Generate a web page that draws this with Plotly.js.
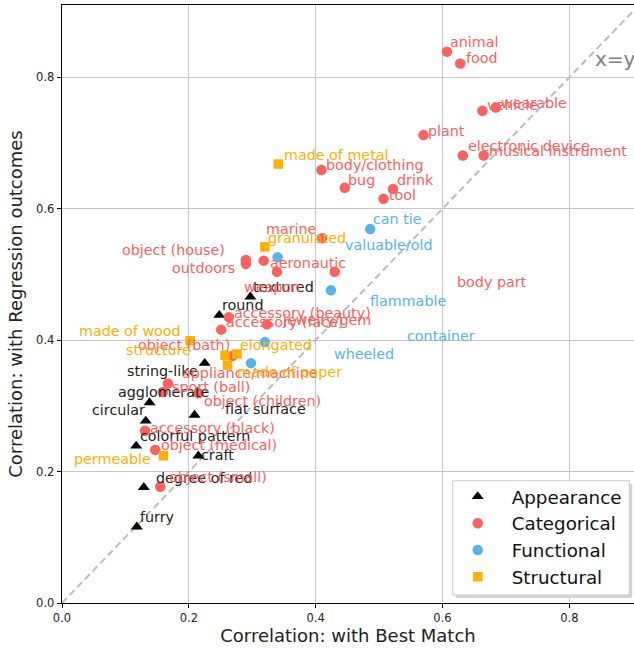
<!DOCTYPE html>
<html>
<head>
<meta charset="utf-8">
<script src="https://cdn.plot.ly/plotly-3.0.1.min.js"></script>
<style>html,body{margin:0;padding:0;background:#fff;}</style>
</head>
<body>
<div id="chart" style="width:634px;height:649px;"></div>
<script>
// ---- Data ----
const appearanceNames = ["textured","round","string-like","agglomerate","circular","flat surface","colorful pattern","craft","degree of red","furry"];
const appearanceX = [0.297,0.248,0.225,0.138,0.132,0.209,0.117,0.215,0.129,0.118];
const appearanceY = [0.466,0.438,0.365,0.305,0.277,0.286,0.239,0.224,0.176,0.116];
const appearanceLabelX = [0.300,0.251,0.101,0.087,0.045,0.256,0.122,0.218,0.147,0.121];
const appearanceLabelY = [0.481,0.454,0.353,0.321,0.293,0.295,0.254,0.225,0.190,0.131];

const categoricalNames = ["animal","food","vehicle","wearable","plant","electronic device","musical instrument","body/clothing","bug","drink","tool","marine","object (house)","outdoors","aeronautic","body part","weapon","accessory (beauty)","accessory (face)","jewelry/gem","object (bath)","appliance/machine","sport (ball)","object (children)","accessory (black)","object (medical)","object (small)"];
const categoricalX = [0.607,0.628,0.663,0.684,0.570,0.632,0.665,0.409,0.446,0.522,0.507,0.410,0.290,0.290,0.339,0.430,0.318,0.263,0.251,0.323,0.269,0.215,0.167,0.159,0.131,0.147,0.155];
const categoricalY = [0.839,0.821,0.749,0.754,0.712,0.681,0.681,0.659,0.632,0.630,0.615,0.555,0.522,0.516,0.504,0.504,0.521,0.435,0.416,0.424,0.376,0.319,0.334,0.321,0.262,0.233,0.177];
const categoricalLabelX = [0.610,0.635,0.669,0.690,0.576,0.639,0.671,0.415,0.449,0.526,0.514,0.320,0.093,0.172,0.326,0.621,0.285,0.270,0.257,0.345,0.118,0.188,0.172,0.222,0.137,0.154,0.167];
const categoricalLabelY = [0.853,0.829,0.758,0.761,0.719,0.695,0.688,0.666,0.644,0.644,0.621,0.569,0.537,0.510,0.517,0.488,0.481,0.442,0.428,0.431,0.392,0.350,0.329,0.308,0.267,0.240,0.191];

const functionalNames = ["can tie","flammable","valuable/old","container","wheeled"];
const functionalX = [0.486,0.424,0.340,0.320,0.298];
const functionalY = [0.569,0.476,0.526,0.397,0.365];
const functionalLabelX = [0.489,0.484,0.444,0.542,0.427];
const functionalLabelY = [0.584,0.460,0.545,0.407,0.379];

const structuralNames = ["made of metal","granulated","made of wood","structure","elongated","made of paper","permeable"];
const structuralX = [0.341,0.320,0.202,0.257,0.276,0.261,0.160];
const structuralY = [0.668,0.542,0.399,0.377,0.379,0.362,0.224];
const structuralLabelX = [0.348,0.324,0.025,0.099,0.279,0.274,0.018];
const structuralLabelY = [0.682,0.555,0.414,0.385,0.393,0.351,0.219];

const diagonal = [0, 1];
const tickValues = [0, 0.2, 0.4, 0.6, 0.8];
const tickLabels = ["0.0", "0.2", "0.4", "0.6", "0.8"];

// ---- Styles ----
const FONT = "DejaVu Sans, sans-serif";
const groups = [
  {name:"Appearance", names:appearanceNames, x:appearanceX, y:appearanceY, lx:appearanceLabelX, ly:appearanceLabelY, color:"#000000", text:"#222222", symbol:"triangle-up", size:10.5},
  {name:"Categorical", names:categoricalNames, x:categoricalX, y:categoricalY, lx:categoricalLabelX, ly:categoricalLabelY, color:"#FF6060", text:"#FF6060", symbol:"circle", size:10.5},
  {name:"Functional", names:functionalNames, x:functionalX, y:functionalY, lx:functionalLabelX, ly:functionalLabelY, color:"#56B4E9", text:"#56B4E9", symbol:"circle", size:10.5},
  {name:"Structural", names:structuralNames, x:structuralX, y:structuralY, lx:structuralLabelX, ly:structuralLabelY, color:"#FFB000", text:"#FFB000", symbol:"square", size:9.5}
];

const traces = [{
  x: diagonal, y: diagonal, mode: "lines", showlegend: false, hoverinfo: "skip",
  line: {color: "#bdbdbd", width: 2, dash: "7px,4px"}
}];
groups.forEach(g => traces.push({
  x: g.x, y: g.y, text: g.names, name: g.name, type: "scatter", mode: "markers",
  marker: {color: g.color, symbol: g.symbol, size: g.size, line: {width: 0}},
  hovertemplate: "%{text}<extra></extra>"
}));

const annotations = [];
groups.forEach(g => g.names.forEach((n, i) => annotations.push({
  x: g.lx[i], y: g.ly[i], xref: "x", yref: "y", text: n, showarrow: false,
  xanchor: "left", yanchor: "middle", borderpad: 0,
  font: {family: FONT, size: 14.3, color: g.text}
})));
annotations.push({x: 0.839, y: 0.828, xref: "x", yref: "y", text: "x=y", showarrow: false,
  xanchor: "left", yanchor: "middle", borderpad: 0, font: {family: FONT, size: 20, color: "#808080"}});

const axisCommon = {
  tickvals: tickValues, ticktext: tickLabels, ticks: "outside", ticklen: 4, tickwidth: 1, tickcolor: "#000",
  tickfont: {family: FONT, size: 11.5, color: "#222"},
  showgrid: true, gridcolor: "#c6c6c6", gridwidth: 1,
  showline: true, linecolor: "#000", linewidth: 1.3, zeroline: false
};

const layout = {
  width: 634, height: 649,
  margin: {l: 62, r: 0, t: 5, b: 46, pad: 0},
  paper_bgcolor: "#fff", plot_bgcolor: "#fff",
  font: {family: FONT},
  xaxis: Object.assign({}, axisCommon, {range: [0, 0.902], mirror: true,
    title: {text: "Correlation: with Best Match", font: {family: FONT, size: 18, color: "#222"}, standoff: 4}}),
  yaxis: Object.assign({}, axisCommon, {range: [0, 0.910],
    title: {text: "Correlation: with Regression outcomes", font: {family: FONT, size: 18, color: "#222"}, standoff: 8}}),
  showlegend: true,
  legend: {x: 0.6673, xanchor: "left", y: 0.209, yanchor: "top", bgcolor: "rgba(0,0,0,0)", borderwidth: 0,
    itemwidth: 58, font: {family: FONT, size: 18.3, color: "#111"}, tracegroupgap: 0},
  shapes: [
    {type: "rect", xref: "paper", yref: "paper", x0: 0.6883, x1: 0.9970, y0: 0.0084, y1: 0.1995,
     fillcolor: "#d4d4d4", line: {width: 0}, layer: "above"},
    {type: "rect", xref: "paper", yref: "paper", x0: 0.6831, x1: 0.9918, y0: 0.0134, y1: 0.2045,
     fillcolor: "#ffffff", line: {color: "#cccccc", width: 1}, layer: "above"}
  ],
  annotations: annotations
};

Plotly.newPlot("chart", traces, layout, {displayModeBar: false, staticPlot: true});
</script>
</body>
</html>
